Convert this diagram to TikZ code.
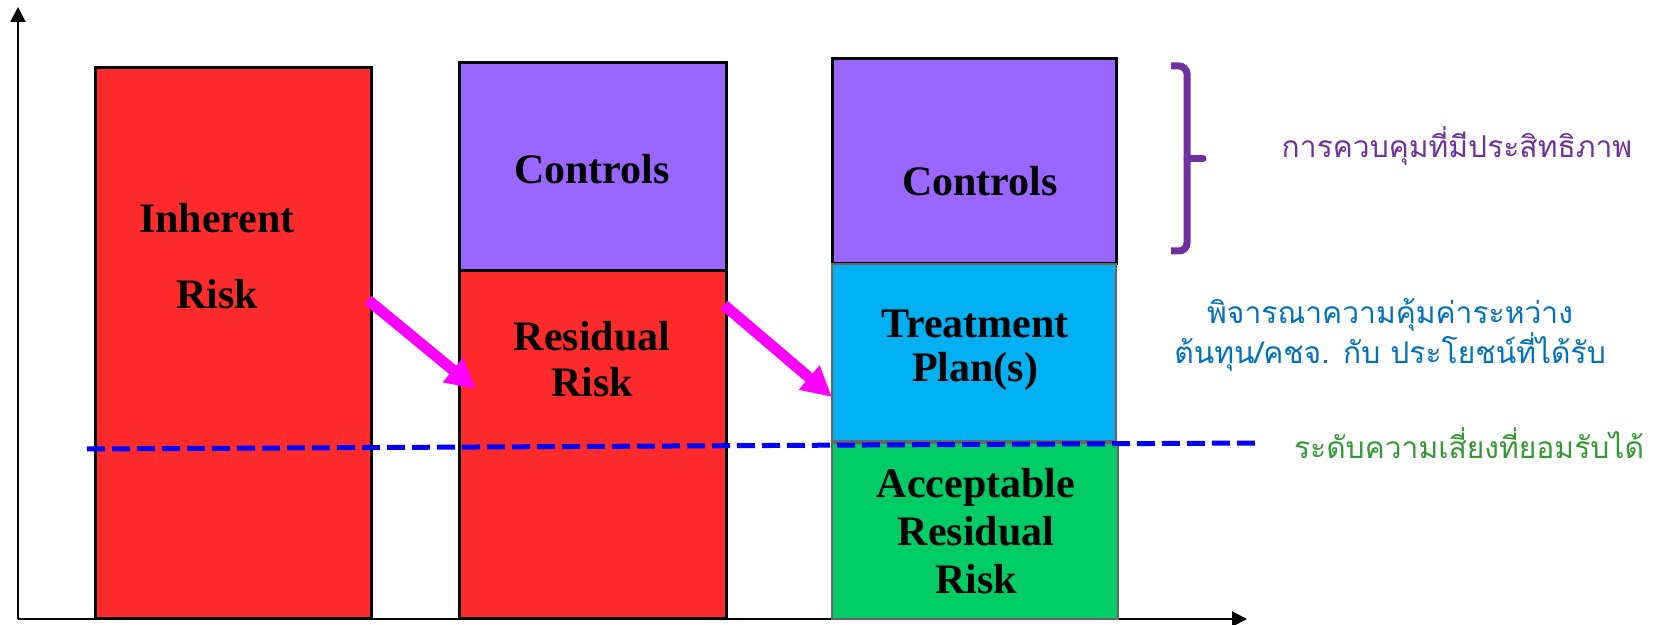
\documentclass[tikz,border=0pt]{standalone}
\usepackage{fontspec}
\setmainfont{Liberation Serif}
\newfontfamily\thaifont[Script=Thai]{Loma}
\usetikzlibrary{arrows.meta}

\definecolor{riskred}{HTML}{FF2B2B}
\definecolor{ctrlviolet}{HTML}{9966FF}
\definecolor{planblue}{HTML}{00B0F0}
\definecolor{okgreen}{HTML}{00CC66}
\definecolor{bracepurple}{HTML}{7030A0}
\definecolor{noteblue}{HTML}{0070C0}
\definecolor{notegreen}{HTML}{339933}
\definecolor{movepink}{HTML}{FF00FF}

\tikzset{
	box/.style={draw=black, line width=1.5pt},
	thinbox/.style={draw=black!60, line width=0.6pt},
	boxlabel/.style={font=\fontsize{21}{23}\selectfont\bfseries, align=center, text=black},
	note/.style={font=\thaifont\fontsize{15}{17}\selectfont, align=center},
	moveto/.style={draw=movepink, line width=5.5pt, -{Triangle[length=15pt,width=15pt]}},
	limitline/.style={draw=blue, line width=2.5pt, dash pattern=on 9pt off 3.5pt},
	axis/.style={line width=1pt, -{Triangle[length=7.5pt,width=7.5pt]}}
}

\begin{document}
\begin{tikzpicture}[x=0.5pt,y=-0.5pt]
	\useasboundingbox (0,0) rectangle (1661,625);
	
	% axes
	\draw[axis] (18,619) -- (18,7);
	\draw[axis] (18,619) -- (1247,619);
	
	% bars
	\filldraw[box,fill=riskred]    (95,68)   rectangle (371,619);
	\filldraw[box,fill=ctrlviolet] (459,63)  rectangle (726,271);
	\filldraw[box,fill=riskred]    (459,271) rectangle (726,619);
	\filldraw[box,fill=ctrlviolet] (832,59)  rectangle (1116,264);
	\filldraw[thinbox,fill=planblue] (832,264) rectangle (1116,441);
	\filldraw[thinbox,fill=okgreen]  (832,443) rectangle (1118,619);
	
	\node[boxlabel,font=\fontsize{21}{38}\selectfont\bfseries] (inh) at (217,256) {Inherent\\Risk};
	\node[boxlabel] (ctlA) at (592,169) {Controls};
	\node[boxlabel] (resA) at (592,359) {Residual\\Risk};
	\node[boxlabel] (ctlB) at (980,181) {Controls};
	\node[boxlabel,font=\fontsize{21}{22}\selectfont\bfseries] (plan) at (975,350) {Treatment\\Plan(s)};
	\node[boxlabel,font=\fontsize{21}{24}\selectfont\bfseries] (accres) at (976,531) {Acceptable\\Residual\\Risk};
	
	% acceptable level
	\draw[limitline] (87,449) -- (1257,443);
	
	% moves between bars
	\coordinate (inhR) at (368,300);
	\coordinate (resL) at (476,389);
	\coordinate (resR) at (724,305);
	\coordinate (planL) at (832,397);
	\draw[moveto] (inhR) -- (resL);
	\draw[moveto] (resR) -- (planL);
	
	% bracket of the controls
	\draw[bracepurple, line width=3.5pt, rounded corners=4pt] (1171,66) -- (1187,66) -- (1187,251) -- (1171,251);
	\draw[bracepurple, line width=3.5pt, line cap=round] (1187,159) -- (1203,159);
	
	\node[note,text=bracepurple] (eff) at (1457,146) {การควบคุมที่มีประสิทธิภาพ};
	\node[note,text=noteblue] (cost) at (1390,335) {พิจารณาความคุ้มค่าระหว่าง\\ต้นทุน/คชจ. กับ ประโยชน์ที่ได้รับ};
	\node[note,text=notegreen] (accept) at (1469,443) {ระดับความเสี่ยงที่ยอมรับได้};
	
	%\node at (640,600) {risk};
\end{tikzpicture}
\end{document}
